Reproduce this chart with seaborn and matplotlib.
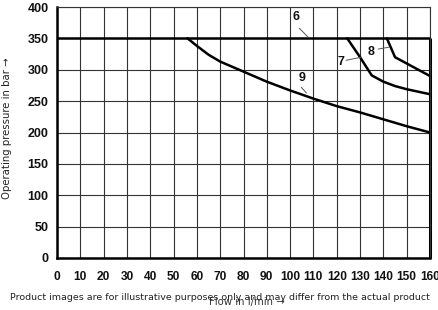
import matplotlib
matplotlib.use("Agg")
import matplotlib.pyplot as plt
import seaborn as sns
import pandas as pd

# Data
x6 = [0, 160]
y6 = [350, 350]
x7 = [124.5, 130, 135, 140, 145, 150, 160]
y7 = [350, 320, 291, 281, 274, 269, 261]
x8 = [141.5, 145, 150, 155, 160]
y8 = [350, 320, 310, 300, 290]
x9 = [56, 60, 65, 70, 80, 90, 100, 110, 120, 130, 140, 150, 160]
y9 = [350, 338, 324, 313, 297, 281, 267, 254, 242, 232, 221, 210, 200]

x_ticks = list(range(0, 161, 10))
y_ticks = list(range(0, 401, 50))

labels = ["6", "7", "8", "9"]
label_pos = [(102.6, 384), (122, 313), (134.8, 328), (105, 287)]
leaders = [((104, 366), (107.7, 352)), ((124, 315), (130.5, 320)),
           ((137.8, 333), (142.5, 336)), ((104.8, 272), (107, 263))]

sns.set_theme(style="white")
plt.rcParams['font.family'] = ['DejaVu Sans']

fig = plt.figure(figsize=(4.39, 3.10), dpi=100)
ax = fig.add_axes([57/439, 1-258/310, (430-57)/439, (258-7)/310])

frames = []
for name, xs, ys in [("6", x6, y6), ("7", x7, y7), ("8", x8, y8), ("9", x9, y9)]:
    frames.append(pd.DataFrame({"flow": xs, "pressure": ys, "curve": name}))
df = pd.concat(frames, ignore_index=True)

for name in labels:
    sub = df[df["curve"] == name]
    sns.lineplot(data=sub, x="flow", y="pressure", ax=ax, color="black",
                 lw=1.8, sort=False, estimator=None, legend=False)

ax.set_xlim(0, 160)
ax.set_ylim(0, 400)
ax.set_xticks(x_ticks)
ax.set_yticks(y_ticks)
ax.grid(True, color="#333333", lw=0.8)
ax.set_axisbelow(True)

xtick_font = dict(family="Liberation Sans", weight="bold", size=8.6)
ytick_font = dict(family="Liberation Sans", weight="bold", size=9.0)
ax.set_xticklabels([str(t) for t in x_ticks], fontdict=xtick_font, color="#111111")
ax.set_yticklabels([str(t) for t in y_ticks], fontdict=ytick_font, color="#111111")
ax.tick_params(axis="x", length=0, pad=9)
ax.tick_params(axis="y", length=0, pad=6)

for side in ["left", "bottom"]:
    ax.spines[side].set_linewidth(1.8)
    ax.spines[side].set_color("black")
ax.spines["top"].set_linewidth(0.8)
ax.spines["top"].set_color("#333333")
ax.spines["right"].set_linewidth(0.8)
ax.spines["right"].set_color("#333333")
ax.vlines(160, 0, 350, color="black", lw=2.2, clip_on=False)

for lab, (lx, ly), ((ax0, ay0), (ax1, ay1)) in zip(labels, label_pos, leaders):
    ax.text(lx, ly, lab, ha="center", va="center", family="Liberation Sans",
            weight="bold", size=9.0, color="#111111")
    ax.plot([ax0, ax1], [ay0, ay1], color="#555555", lw=0.7)

ax.set_xlabel("")
ax.set_ylabel("")
fig.text(7/439, 1-128/310, "Operating pressure in bar →", rotation=90,
         ha="center", va="center", size=7.3, color="#222222")
fig.text(10/439, 1-298/310,
         "Product images are for illustrative purposes only and may differ from the actual product",
         ha="left", va="center", size=6.8, color="#222222")
fig.text(247/439, 1-302/310, "Flow in l/min →", ha="center", va="center",
         size=7.3, color="#333333")

fig.savefig("out.png", dpi=100)
